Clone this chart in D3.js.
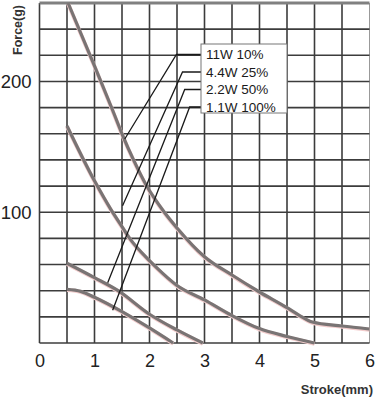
<!DOCTYPE html>
<html>
<head>
<meta charset="utf-8">
<script src="https://cdn.jsdelivr.net/npm/d3@7"></script>
<style>
  body { margin: 0; background: #fff; }
  svg { display: block; }
</style>
</head>
<body>
<div id="chart"></div>
<script>
// tick labels
const xTicks = [0, 1, 2, 3, 4, 5, 6];
const yTicks = [100, 200];

// series (stroke mm, force g)
const seriesNames = ["11W 10%", "4.4W 25%", "2.2W 50%", "1.1W 100%"];
const force11W = [[0.52, 260], [1.0, 212], [1.33, 178], [1.5, 160], [1.71, 140], [1.95, 120], [2.27, 100], [2.5, 88], [3.0, 66], [3.5, 52], [4.0, 39], [4.5, 27], [4.73, 21], [4.96, 16], [5.5, 13], [6.0, 10.7]];
const force4W = [[0.5, 166], [1.0, 124], [1.3, 102], [1.5, 89], [1.64, 80], [2.0, 63], [2.12, 58], [2.5, 44], [3.0, 33], [3.5, 21], [4.0, 11], [4.5, 5], [5.0, 0]];
const force2W = [[0.5, 61], [1.0, 50], [1.43, 40], [2.0, 22], [2.5, 10], [2.97, 0]];
const force1W = [[0.5, 41], [0.75, 39.5], [1.0, 35], [1.5, 24], [2.0, 11.5], [2.43, 0]];

// leader lines: knee stroke (mm) and point on curve
const leaderKneeX = [2.49, 2.6, 2.64, 2.73];
const leaderEnd = [[1.55, 156], [1.51, 105], [1.24, 46], [1.33, 25]];

const width = 391, height = 400;

const svg = d3.select("#chart")
  .append("svg")
    .attr("width", width)
    .attr("height", height)
    .style("font-family", "'Liberation Sans', Arial, sans-serif");

const x = d3.scaleLinear().domain([0, 6]).range([39.5, 369.5]);
const y = d3.scaleLinear().domain([0, 260]).range([343, 3]);

// grid
const grid = svg.append("g");
grid.selectAll("line.v")
  .data(d3.range(0, 6.01, 0.5))
  .join("line")
    .attr("x1", d => x(d)).attr("x2", d => x(d))
    .attr("y1", y(0)).attr("y2", y(260))
    .attr("stroke", d => d === 6 ? "#999" : "#3c3c3c")
    .attr("stroke-width", d => d === 6 ? 1 : 1.6);
grid.selectAll("line.h")
  .data(d3.range(0, 260.1, 20))
  .join("line")
    .attr("x1", x(0)).attr("x2", x(6))
    .attr("y1", d => y(d)).attr("y2", d => y(d))
    .attr("stroke", d => d === 260 ? "#808080" : "#3c3c3c")
    .attr("stroke-width", d => d === 260 ? 3 : 1.6);

// y tick labels
svg.append("g")
  .attr("transform", `translate(${x(0) - 8},0)`)
  .call(d3.axisLeft(y).tickValues(yTicks).tickSize(0).tickPadding(0))
  .call(g => g.select(".domain").remove())
  .selectAll("text")
    .attr("font-family", "'Liberation Sans', Arial, sans-serif")
    .attr("font-size", 18.5)
    .attr("fill", "#222");

// x tick labels
svg.append("g")
  .attr("transform", `translate(0,${y(0) + 8})`)
  .call(d3.axisBottom(x).tickValues(xTicks).tickFormat(d3.format("d")).tickSize(0).tickPadding(3))
  .call(g => g.select(".domain").remove())
  .selectAll("text")
    .attr("font-family", "'Liberation Sans', Arial, sans-serif")
    .attr("font-size", 18)
    .attr("fill", "#222");

// axis titles
svg.append("text")
  .attr("transform", `translate(22,30) rotate(-90)`)
  .attr("text-anchor", "middle")
  .attr("font-size", 12.5)
  .attr("font-weight", "bold")
  .attr("fill", "#333")
  .text("Force(g)");

svg.append("text")
  .attr("x", 373)
  .attr("y", 394)
  .attr("text-anchor", "end")
  .attr("font-size", 13)
  .attr("font-weight", "bold")
  .attr("fill", "#333")
  .text("Stroke(mm)");

// curves
const line = d3.line()
  .x(d => x(d[0]))
  .y(d => y(d[1]))
  .curve(d3.curveMonotoneX);

const curves = [force11W, force4W, force2W, force1W];
svg.append("g")
  .selectAll("path.halo")
  .data(curves)
  .join("path")
    .attr("d", line)
    .attr("fill", "none")
    .attr("stroke", "#f2cccc")
    .attr("stroke-width", 4)
    .attr("transform", "translate(0,0.7)");
svg.append("g")
  .selectAll("path")
  .data(curves)
  .join("path")
    .attr("d", line)
    .attr("fill", "none")
    .attr("stroke", "#797474")
    .attr("stroke-width", 3.2);

// legend box
const legend = {left: 201, top: 44, w: 86, h: 69, row: 17.5};
const rowY = i => legend.top + 10.5 + i * legend.row;

svg.append("g")
  .selectAll("polyline")
  .data(seriesNames)
  .join("polyline")
    .attr("points", (d, i) => [
      [legend.left, rowY(i)],
      [x(leaderKneeX[i]), rowY(i)],
      [x(leaderEnd[i][0]), y(leaderEnd[i][1])]
    ].join(" "))
    .attr("fill", "none")
    .attr("stroke", "#1a1a1a")
    .attr("stroke-width", 1.3);

svg.append("rect")
  .attr("x", legend.left)
  .attr("y", legend.top)
  .attr("width", legend.w)
  .attr("height", legend.h)
  .attr("fill", "#fff")
  .attr("stroke", "#777")
  .attr("stroke-width", 1);

svg.append("g")
  .selectAll("text")
  .data(seriesNames)
  .join("text")
    .attr("x", legend.left + 5)
    .attr("y", (d, i) => rowY(i) + 4.8)
    .attr("font-size", 13.5)
    .attr("fill", "#1a1a1a")
    .text(d => d);
</script>
</body>
</html>
